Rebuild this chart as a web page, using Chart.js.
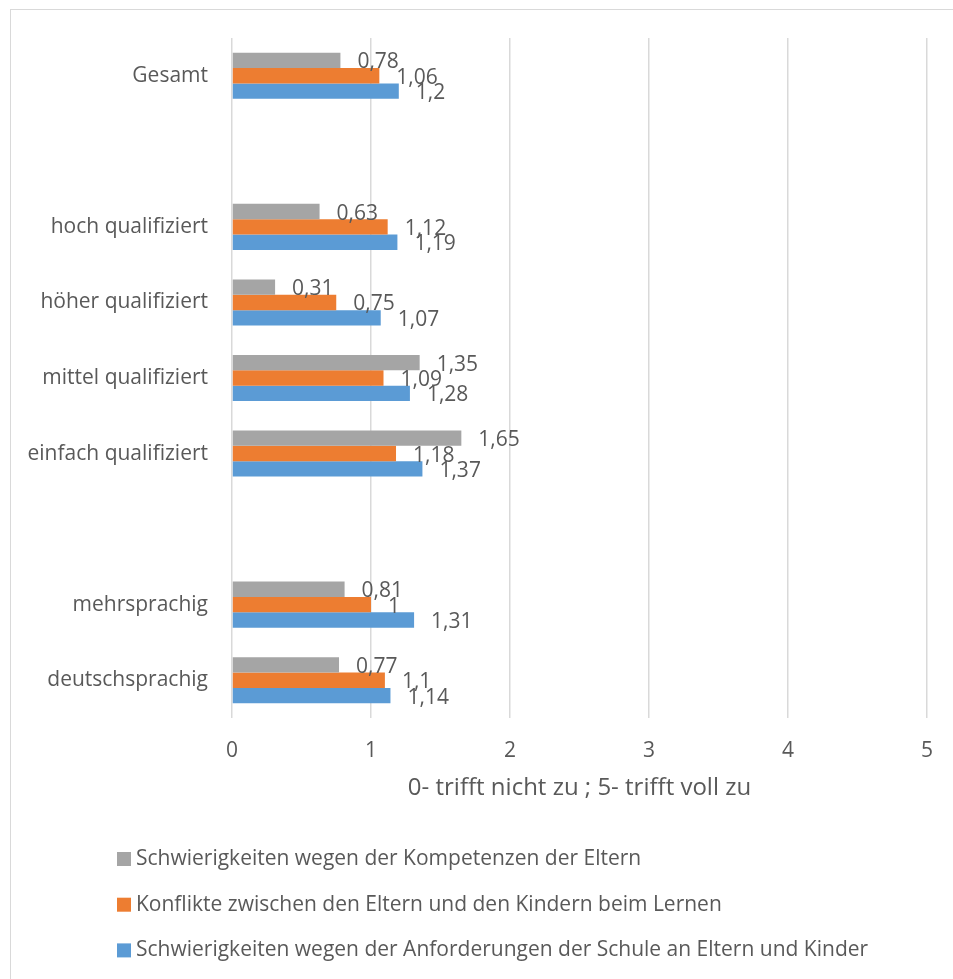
<!DOCTYPE html>
<html>
<head>
<meta charset="utf-8">
<script src="https://cdn.jsdelivr.net/npm/chart.js@4"></script>
<style>
  html, body { margin: 0; padding: 0; background: #fff; }
  canvas { display: block; }
</style>
</head>
<body>
<canvas id="chart" width="953" height="979"></canvas>
<script>
// Kategorien von oben nach unten, leere Einträge als Abstand zwischen den Gruppen
const kategorien = ["Gesamt", "", "hoch qualifiziert", "höher qualifiziert", "mittel qualifiziert", "einfach qualifiziert", "", "mehrsprachig", "deutschsprachig"];

const serienNamen = [
  "Schwierigkeiten wegen der Kompetenzen der Eltern",
  "Konflikte zwischen den Eltern und den Kindern beim Lernen",
  "Schwierigkeiten wegen der Anforderungen der Schule an Eltern und Kinder"
];

const kompetenzen = [0.78, null, 0.63, 0.31, 1.35, 1.65, null, 0.81, 0.77];
const konflikte = [1.06, null, 1.12, 0.75, 1.09, 1.18, null, 1, 1.1];
const anforderungen = [1.2, null, 1.19, 1.07, 1.28, 1.37, null, 1.31, 1.14];

const xTicks = [0, 1, 2, 3, 4, 5];
const achsenTitel = "0- trifft nicht zu ; 5- trifft voll zu";

const farben = ["#a5a5a5", "#ed7d31", "#5b9bd5"];
const textFarbe = "#595959";
const schrift = "'Open Sans', sans-serif";

function zahl(v) {
  return String(v).replace(".", ",");
}

// Rahmen um das Diagramm
const rahmen = {
  id: "rahmen",
  beforeDraw(chart) {
    const ctx = chart.ctx;
    ctx.save();
    ctx.fillStyle = "#fff";
    ctx.fillRect(0, 0, chart.width, chart.height);
    ctx.strokeStyle = "#d9d9d9";
    ctx.lineWidth = 1;
    ctx.strokeRect(10.5, 9.5, chart.width + 20, chart.height + 20);
    ctx.restore();
  }
};

// Werte rechts neben den Balken
const werte = {
  id: "werte",
  afterDatasetsDraw(chart) {
    const ctx = chart.ctx;
    ctx.save();
    ctx.font = "21px " + schrift;
    ctx.fillStyle = textFarbe;
    ctx.textAlign = "left";
    ctx.textBaseline = "middle";
    chart.data.datasets.forEach((ds, i) => {
      const meta = chart.getDatasetMeta(i);
      meta.data.forEach((bar, j) => {
        const v = ds.data[j];
        if (v === null) return;
        ctx.fillText(zahl(v), bar.x + 17, bar.y + 2);
      });
    });
    ctx.restore();
  }
};

// Legende untereinander, linksbündig
const legende = {
  id: "legende",
  afterDraw(chart) {
    const ctx = chart.ctx;
    ctx.save();
    ctx.font = "21px " + schrift;
    ctx.textBaseline = "middle";
    ctx.textAlign = "left";
    chart.data.datasets.forEach((ds, i) => {
      const y = 859 + i * 45.7;
      ctx.fillStyle = ds.backgroundColor;
      ctx.fillRect(117, y - 7, 14, 14);
      ctx.fillStyle = textFarbe;
      ctx.fillText(ds.label, 136, y);
    });
    ctx.restore();
  }
};

new Chart(document.getElementById("chart"), {
  type: "bar",
  data: {
    labels: kategorien,
    datasets: [
      { label: serienNamen[0], data: kompetenzen, backgroundColor: farben[0] },
      { label: serienNamen[1], data: konflikte, backgroundColor: farben[1] },
      { label: serienNamen[2], data: anforderungen, backgroundColor: farben[2] }
    ]
  },
  options: {
    indexAxis: "y",
    responsive: false,
    animation: false,
    maintainAspectRatio: false,
    datasets: {
      bar: { barPercentage: 1, categoryPercentage: 0.61 }
    },
    layout: { padding: { top: 38, right: 19, left: 0, bottom: 176 } },
    plugins: {
      legend: { display: false },
      tooltip: { enabled: false }
    },
    scales: {
      x: {
        min: xTicks[0],
        max: xTicks[xTicks.length - 1],
        afterBuildTicks(scale) {
          scale.ticks = xTicks.map(v => ({ value: v }));
        },
        afterFit(scale) {
          scale.height = 85;
        },
        ticks: {
          color: textFarbe,
          font: { family: schrift, size: 21 },
          padding: 20,
          callback: v => zahl(v)
        },
        grid: { color: "#d9d9d9", lineWidth: 1.5, drawTicks: false },
        border: { display: false },
        title: {
          display: true,
          text: achsenTitel,
          color: textFarbe,
          font: { family: schrift, size: 24 },
          padding: 0
        }
      },
      y: {
        afterFit(scale) {
          scale.width = 232;
        },
        ticks: {
          color: textFarbe,
          font: { family: schrift, size: 21 },
          padding: 16
        },
        grid: { display: false },
        border: { display: false }
      }
    }
  },
  plugins: [rahmen, werte, legende]
});
</script>
</body>
</html>
